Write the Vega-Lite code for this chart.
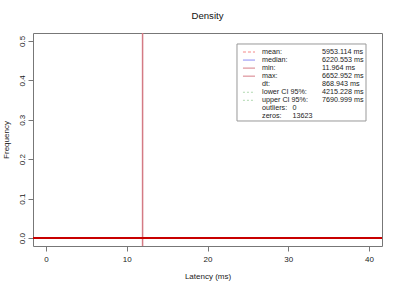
{
  "$schema": "https://vega.github.io/schema/vega-lite/v6.json",
  "width": 349,
  "height": 213,
  "autosize": {"type": "none"},
  "padding": {"left": 33, "top": 33, "right": 18, "bottom": 42},
  "background": "white",
  "title": {"text": "Density", "fontSize": 9.6, "fontWeight": "normal", "font": "Liberation Sans", "color": "#111", "offset": 12, "anchor": "middle"},
  "config": {"view": {"stroke": "#777", "strokeWidth": 1}, "font": "Liberation Sans"},
  "datasets": {
    "curve": [
      {"latency": -2600, "frequency": 0},
      {"latency": 11.964, "frequency": 0},
      {"latency": 9300, "frequency": 0}
    ],
    "stats": [
      {"order": 0, "label": "mean:", "value": 5953.114, "text": "5953.114 ms"},
      {"order": 1, "label": "median:", "value": 6220.553, "text": "6220.553 ms"},
      {"order": 2, "label": "min:", "value": 11.964, "text": "11.964 ms"},
      {"order": 3, "label": "max:", "value": 6652.952, "text": "6652.952 ms"},
      {"order": 4, "label": "dt:", "value": 868.943, "text": "868.943 ms"},
      {"order": 5, "label": "lower CI 95%:", "value": 4215.228, "text": "4215.228 ms"},
      {"order": 6, "label": "upper CI 95%:", "value": 7690.999, "text": "7690.999 ms"},
      {"order": 7, "label": "outliers:", "value": 0, "text": "0"},
      {"order": 8, "label": "zeros:", "value": 13623, "text": "13623"}
    ]
  },
  "layer": [
    {
      "layer": [
        {
          "data": {"name": "stats"},
          "transform": [{"filter": "indexof(['dt:','outliers:','zeros:'], datum.label) < 0"}],
          "mark": {"type": "rule", "clip": true, "strokeWidth": 1.5},
          "encoding": {
            "x": {"field": "value", "type": "quantitative"},
            "color": {"field": "label", "type": "nominal", "legend": null,
              "scale": {"domain": ["mean:", "median:", "min:", "max:", "lower CI 95%:", "upper CI 95%:"],
                        "range": ["#f48888", "#8888f4", "#d47a84", "#d47a84", "#b0d8b0", "#b0d8b0"]}},
            "strokeDash": {"field": "label", "type": "nominal", "legend": null,
              "scale": {"domain": ["mean:", "median:", "min:", "max:", "lower CI 95%:", "upper CI 95%:"],
                        "range": [[3, 2], [1, 0], [1, 0], [1, 0], [2, 2], [2, 2]]}}
          }
        },
        {
          "data": {"name": "curve"},
          "mark": {"type": "line", "clip": true, "color": "#c80000", "strokeWidth": 2},
          "encoding": {
            "x": {"field": "latency", "type": "quantitative", "title": "Latency (ms)",
              "scale": {"domain": [-1.6, 41.6], "nice": false, "zero": false},
              "axis": {"values": [0, 10, 20, 30, 40], "domain": false, "grid": false, "tickColor": "#777", "tickSize": 5,
                       "labelFontSize": 8, "labelColor": "#222", "labelPadding": 4, "labelFont": "Liberation Sans",
                       "titleFontSize": 8, "titleFontWeight": "normal", "titleColor": "#222", "titlePadding": 9, "titleFont": "Liberation Sans"}},
            "y": {"field": "frequency", "type": "quantitative", "title": "Frequency",
              "scale": {"domain": [-0.02, 0.52], "nice": false, "zero": false},
              "axis": {"values": [0, 0.1, 0.2, 0.3, 0.4, 0.5], "format": ".1f", "labelAngle": -90, "domain": false, "grid": false,
                       "tickColor": "#777", "tickSize": 5, "labelFontSize": 8, "labelColor": "#222", "labelPadding": 2, "labelFont": "Liberation Sans",
                       "titleFontSize": 8, "titleFontWeight": "normal", "titleColor": "#222", "titlePadding": 8, "titleFont": "Liberation Sans"}}
          }
        }
      ]
    },
    {
      "layer": [
        {
          "data": {"values": [{}]},
          "mark": {"type": "rect", "fill": "white", "stroke": "#999", "strokeWidth": 1},
          "encoding": {
            "x": {"datum": 23.65, "type": "quantitative"},
            "x2": {"datum": 39.62},
            "y": {"datum": -0.994, "type": "quantitative", "axis": null, "scale": {"domain": [0, 8], "range": [19, 83.4], "nice": false, "zero": false}},
            "y2": {"datum": 8.57}
          }
        },
        {
          "data": {"name": "stats"},
          "transform": [{"filter": "indexof(['dt:','outliers:','zeros:'], datum.label) < 0"}],
          "mark": {"type": "rule", "strokeWidth": 1},
          "encoding": {
            "x": {"datum": 24.39, "type": "quantitative"},
            "x2": {"datum": 25.88},
            "y": {"field": "order", "type": "quantitative", "axis": null, "scale": {"domain": [0, 8], "range": [19, 83.4], "nice": false, "zero": false}},
            "color": {"field": "label", "type": "nominal", "legend": null},
            "strokeDash": {"field": "label", "type": "nominal", "legend": null}
          }
        },
        {
          "data": {"name": "stats"},
          "mark": {"type": "text", "align": "left", "baseline": "middle", "fontSize": 7.2, "font": "Liberation Sans", "color": "#222"},
          "encoding": {
            "x": {"datum": 26.75, "type": "quantitative"},
            "y": {"field": "order", "type": "quantitative", "axis": null, "scale": {"domain": [0, 8], "range": [19, 83.4], "nice": false, "zero": false}},
            "text": {"field": "label"}
          }
        },
        {
          "data": {"name": "stats"},
          "transform": [{"filter": "datum.order < 7"}],
          "mark": {"type": "text", "align": "left", "baseline": "middle", "fontSize": 7.2, "font": "Liberation Sans", "color": "#222"},
          "encoding": {
            "x": {"datum": 34.17, "type": "quantitative"},
            "y": {"field": "order", "type": "quantitative", "axis": null, "scale": {"domain": [0, 8], "range": [19, 83.4], "nice": false, "zero": false}},
            "text": {"field": "text"}
          }
        },
        {
          "data": {"name": "stats"},
          "transform": [{"filter": "datum.order >= 7"}],
          "mark": {"type": "text", "align": "left", "baseline": "middle", "fontSize": 7.2, "font": "Liberation Sans", "color": "#222"},
          "encoding": {
            "x": {"datum": 30.52, "type": "quantitative"},
            "y": {"field": "order", "type": "quantitative", "axis": null, "scale": {"domain": [0, 8], "range": [19, 83.4], "nice": false, "zero": false}},
            "text": {"field": "text"}
          }
        }
      ]
    }
  ],
  "resolve": {"scale": {"y": "independent"}, "axis": {"y": "independent"}}
}
